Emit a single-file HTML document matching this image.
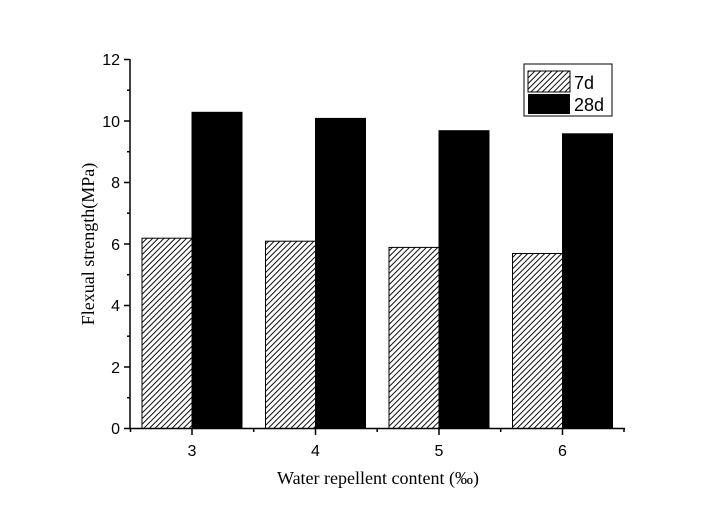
<!DOCTYPE html>
<html><head><style>body{margin:0;background:#fff}</style></head><body>
<svg width="726" height="513" xmlns="http://www.w3.org/2000/svg" font-family="Liberation Sans, Arial, sans-serif">
<defs>
<pattern id="h" patternUnits="userSpaceOnUse" width="4" height="4" patternTransform="rotate(45)">
<rect width="4" height="4" fill="#fff"/><line x1="0" y1="0" x2="0" y2="4" stroke="#000" stroke-width="1.9"/>
</pattern>
</defs>
<g stroke="#000" stroke-width="1">
<rect x="142" y="238.2" width="50" height="190.3" fill="url(#h)"/>
<rect x="192" y="112.3" width="50" height="316.2" fill="#000"/>
<rect x="265.5" y="241.2" width="50" height="187.3" fill="url(#h)"/>
<rect x="315.5" y="118.4" width="50" height="310.1" fill="#000"/>
<rect x="389" y="247.4" width="50" height="181.1" fill="url(#h)"/>
<rect x="439" y="130.7" width="50" height="297.8" fill="#000"/>
<rect x="512.5" y="253.5" width="50" height="175" fill="url(#h)"/>
<rect x="562.5" y="133.8" width="50" height="294.7" fill="#000"/>
</g>
<g stroke="#000" stroke-width="1.5" fill="none">
<line x1="130" y1="59" x2="130" y2="429"/>
<line x1="130" y1="428.5" x2="625" y2="428.5"/>
<line x1="124" y1="59.5" x2="130" y2="59.5"/>
<line x1="124" y1="121" x2="130" y2="121"/>
<line x1="124" y1="182.5" x2="130" y2="182.5"/>
<line x1="124" y1="244" x2="130" y2="244"/>
<line x1="124" y1="305.5" x2="130" y2="305.5"/>
<line x1="124" y1="367" x2="130" y2="367"/>
<line x1="124" y1="428.5" x2="130" y2="428.5"/>
<line x1="127" y1="90.2" x2="130" y2="90.2"/>
<line x1="127" y1="151.7" x2="130" y2="151.7"/>
<line x1="127" y1="213.2" x2="130" y2="213.2"/>
<line x1="127" y1="274.7" x2="130" y2="274.7"/>
<line x1="127" y1="336.2" x2="130" y2="336.2"/>
<line x1="127" y1="397.7" x2="130" y2="397.7"/>
<line x1="192" y1="428" x2="192" y2="435"/>
<line x1="315.5" y1="428" x2="315.5" y2="435"/>
<line x1="439" y1="428" x2="439" y2="435"/>
<line x1="562.5" y1="428" x2="562.5" y2="435"/>
<line x1="130.5" y1="428" x2="130.5" y2="432"/>
<line x1="253.7" y1="428" x2="253.7" y2="432"/>
<line x1="377.2" y1="428" x2="377.2" y2="432"/>
<line x1="500.7" y1="428" x2="500.7" y2="432"/>
<line x1="624" y1="428" x2="624" y2="432"/>
</g>
<g font-size="16" text-anchor="end">
<text x="120" y="65">12</text><text x="120" y="127">10</text><text x="120" y="188">8</text>
<text x="120" y="250">6</text><text x="120" y="311">4</text><text x="120" y="373">2</text><text x="120" y="434">0</text>
</g>
<g font-size="16" text-anchor="middle">
<text x="192" y="456">3</text><text x="315.5" y="456">4</text><text x="439" y="456">5</text><text x="562.5" y="456">6</text>
</g>
<text x="378" y="484" font-family="Liberation Serif, serif" font-size="18" text-anchor="middle">Water repellent content (‰)</text>
<text transform="translate(94,244) rotate(-90)" font-family="Liberation Serif, serif" font-size="18" text-anchor="middle">Flexual strength(MPa)</text>
<rect x="524" y="64" width="88" height="52" fill="#fff" stroke="#000" stroke-width="1"/>
<rect x="528" y="71" width="42" height="21" fill="url(#h)" stroke="#000" stroke-width="1"/>
<rect x="528" y="94" width="42" height="20" fill="#000"/>
<text x="574" y="89" font-size="18">7d</text>
<text x="574" y="111" font-size="18">28d</text>
</svg>
</body></html>
